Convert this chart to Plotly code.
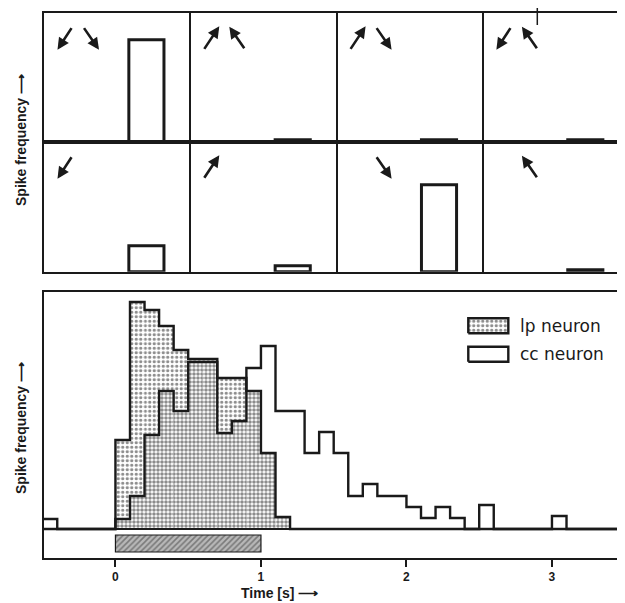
import numpy as np
import plotly.graph_objects as go

# ---------------- data ----------------
# bottom panel: peri-stimulus histograms, 0.1 s bins starting at -0.5 s
bin_start = -0.5
bin_width = 0.1
lp_rate = [0, 0, 0, 0, 0,
           89, 227, 219, 203, 179, 170, 170, 151, 151, 138,
           76, 12, 0, 0, 0, 0, 0, 0, 0, 0,
           0, 0, 0, 0, 0, 0, 0, 0, 0, 0,
           0, 0, 0, 0, 0]
cc_rate = [10, 0, 0, 0, 0,
           10, 33, 94, 138, 118, 167, 167, 96, 108, 161,
           183, 118, 118, 76, 97, 76, 33, 45, 33, 33,
           22, 11, 22, 11, 0, 24, 0, 0, 0, 0,
           13, 0, 0, 0, 0]
stim_on, stim_off = 0.0, 1.0
time_ticks = [0, 1, 2, 3]
legend_names = ["lp neuron", "cc neuron"]

# top panels: responses to movement directions (arrows)
row1_dirs = [["↙", "↘"], ["↗", "↖"], ["↗", "↘"], ["↙", "↖"]]
row1_resp = [103, 2, 2, 2]
row2_dirs = [["↙"], ["↗"], ["↘"], ["↖"]]
row2_resp = [26, 6, 87, 2]

# ---------------- styling / geometry ----------------
INK = "#1a1a1a"
OFF = 8                      # page body margin offset
W, H = 625 - OFF, 603 - OFF
ML, MR, MT, MB = 44 - OFF, 0, 13 - OFF, 45
plot_h = H - MT - MB
plot_w = W - ML - MR
PLOT_BOTTOM_REF = 558        # reference pixel row of plot bottom


def py2paper(py):
    return (PLOT_BOTTOM_REF - py) / plot_h


def px2paper(px):
    return (px - 44) / plot_w


dom_bottom = [0.0, py2paper(292)]
dom_row2 = [py2paper(271.7), py2paper(141.7)]
dom_row1 = [py2paper(141.7), 1.0]

col_px = 146.3
top_xmax = plot_w / col_px

edges = bin_start + bin_width * np.arange(len(cc_rate) + 1)
centers = edges[:-1] + bin_width / 2
lp = np.array(lp_rate)
cc = np.array(cc_rate)
overlap = np.minimum(lp, cc)

LIGHT = dict(shape=".", fgcolor=INK, bgcolor="white", size=4.5, solidity=0.42)
DENSE = dict(shape=".", fgcolor=INK, bgcolor="white", size=4, solidity=0.62)

fig = go.Figure()

# lp only (light dotted)
fig.add_trace(go.Bar(
    x=centers, y=lp, width=bin_width, xaxis="x", yaxis="y",
    marker=dict(color="white", line=dict(width=0), pattern=LIGHT),
    showlegend=False, hoverinfo="skip"))
# overlap (dense dotted)
fig.add_trace(go.Bar(
    x=centers, y=overlap, width=bin_width, xaxis="x", yaxis="y",
    marker=dict(color="white", line=dict(width=0), pattern=DENSE),
    showlegend=False, hoverinfo="skip"))
# stimulus bar
fig.add_trace(go.Bar(
    x=[(stim_on + stim_off) / 2], y=[17], base=[-23], width=stim_off - stim_on,
    xaxis="x", yaxis="y",
    marker=dict(color="#b5b5b5", line=dict(color=INK, width=1.2),
                pattern=dict(shape="/", fgcolor="#3a3a3a", bgcolor="#b8b8b8",
                             size=4, solidity=0.4)),
    showlegend=False, hoverinfo="skip"))
# outlines
fig.add_trace(go.Scatter(
    x=edges, y=list(lp) + [lp[-1]], mode="lines", line_shape="hv",
    line=dict(color=INK, width=2.4), xaxis="x", yaxis="y",
    showlegend=False, hoverinfo="skip"))
fig.add_trace(go.Scatter(
    x=edges, y=list(cc) + [cc[-1]], mode="lines", line_shape="hv",
    line=dict(color=INK, width=2.4), xaxis="x", yaxis="y",
    showlegend=False, hoverinfo="skip"))

# custom legend swatches (in bottom-axis coordinates)
xr = [-0.491, 3.502]
yr = [-29, 237]
lx0, lx1 = 2.425, 2.700
sw = [(195.7, 210.7), (167.3, 182.3)]
fig.add_trace(go.Scatter(
    x=[lx0, lx1, lx1, lx0, lx0], y=[sw[0][0], sw[0][0], sw[0][1], sw[0][1], sw[0][0]],
    mode="lines", fill="toself", fillcolor="white", fillpattern=LIGHT,
    line=dict(color=INK, width=2.4), xaxis="x", yaxis="y",
    showlegend=False, hoverinfo="skip"))
fig.add_trace(go.Scatter(
    x=[lx0, lx1, lx1, lx0, lx0], y=[sw[1][0], sw[1][0], sw[1][1], sw[1][1], sw[1][0]],
    mode="lines", fill="toself", fillcolor="white",
    line=dict(color=INK, width=2.4), xaxis="x", yaxis="y",
    showlegend=False, hoverinfo="skip"))

annotations = []
for name, (y0, y1) in zip(legend_names, sw):
    annotations.append(dict(x=2.77, y=(y0 + y1) / 2, xref="x", yref="y", text=name,
                            showarrow=False, xanchor="left", yanchor="middle",
                            font=dict(family="DejaVu Sans", size=17, color=INK)))

# ---------------- top panels ----------------
bar_off, bar_w = 0.70, 0.24
for resp, xa, ya in [(row1_resp, "x2", "y2"), (row2_resp, "x3", "y3")]:
    fig.add_trace(go.Bar(
        x=[c + bar_off for c in range(len(resp))], y=resp, width=bar_w,
        xaxis=xa, yaxis=ya,
        marker=dict(color="white", line=dict(color=INK, width=3)),
        showlegend=False, hoverinfo="skip"))

slot_x = {"↙": 21, "↗": 21, "↘": 47, "↖": 47}
vec = {"↙": (-15, 23), "↘": (16, 23), "↗": (16, -24), "↖": (-16, -23)}
center_y = 25.5
for dirs_row, xa, ya in [(row1_dirs, "x2", "y2"), (row2_dirs, "x3", "y3")]:
    for c, dirs in enumerate(dirs_row):
        for d in dirs:
            vx, vy = vec[d]
            hx = slot_x[d] + vx / 2
            hy = center_y + vy / 2
            annotations.append(dict(
                x=c + hx / col_px, y=130 - hy, xref=xa, yref=ya,
                ax=-vx, ay=-vy, text="", showarrow=True,
                arrowhead=2, arrowsize=0.9, arrowwidth=2.6, arrowcolor=INK))

# axis labels
annotations.append(dict(x=px2paper(279), y=py2paper(593), xref="paper", yref="paper",
                        xanchor="center", yanchor="middle",
                        text="Time [s] ⟶", showarrow=False,
                        font=dict(size=14, color=INK, weight="bold")))
for cy in (140, 428):
    annotations.append(dict(x=px2paper(21), y=py2paper(cy), xref="paper", yref="paper",
                            xanchor="center", yanchor="middle",
                            text="Spike frequency ⟶", textangle=-90, showarrow=False,
                            font=dict(size=14, color=INK, weight="bold")))

shapes = [
    # baseline of the histogram
    dict(type="line", xref="x domain", yref="y", x0=0, x1=1, y0=0, y1=0,
         line=dict(color=INK, width=2)),
    # pointer line at the top
    dict(type="line", xref="paper", yref="paper",
         x0=px2paper(537.3), x1=px2paper(537.3),
         y0=py2paper(25), y1=py2paper(-2), line=dict(color=INK, width=1.5)),
]

top_x = dict(range=[0, top_xmax], showline=True, mirror=True, linecolor=INK, linewidth=2,
             showgrid=True, gridcolor=INK, gridwidth=2, dtick=1, tick0=0,
             showticklabels=False, ticks="", zeroline=False, fixedrange=True)
top_y = dict(range=[0, 130], showline=True, mirror=False, linecolor=INK, linewidth=2,
             showgrid=False, showticklabels=False, ticks="", zeroline=False)

fig.update_layout(
    width=W, height=H,
    margin=dict(l=ML, r=MR, t=MT, b=MB),
    paper_bgcolor="white", plot_bgcolor="white",
    font=dict(family="Liberation Sans", color=INK),
    barmode="overlay", showlegend=False,
    xaxis=dict(domain=[0, 1], anchor="y", range=xr, tickvals=time_ticks,
               ticks="outside", ticklen=7, tickwidth=2, tickcolor=INK,
               tickfont=dict(size=12, weight="bold", color=INK),
               showline=True, mirror=True, linecolor=INK, linewidth=2,
               showgrid=False, zeroline=False),
    yaxis=dict(domain=dom_bottom, anchor="x", range=yr, showline=True, mirror=False,
               linecolor=INK, linewidth=2, showgrid=False, showticklabels=False,
               ticks="", zeroline=False),
    xaxis2=dict(domain=[0, 1], anchor="y2", **top_x),
    yaxis2=dict(domain=dom_row1, anchor="x2", **top_y),
    xaxis3=dict(domain=[0, 1], anchor="y3", **top_x),
    yaxis3=dict(domain=dom_row2, anchor="x3", **top_y),
    annotations=annotations,
    shapes=shapes,
)

fig.write_html("out.html")
